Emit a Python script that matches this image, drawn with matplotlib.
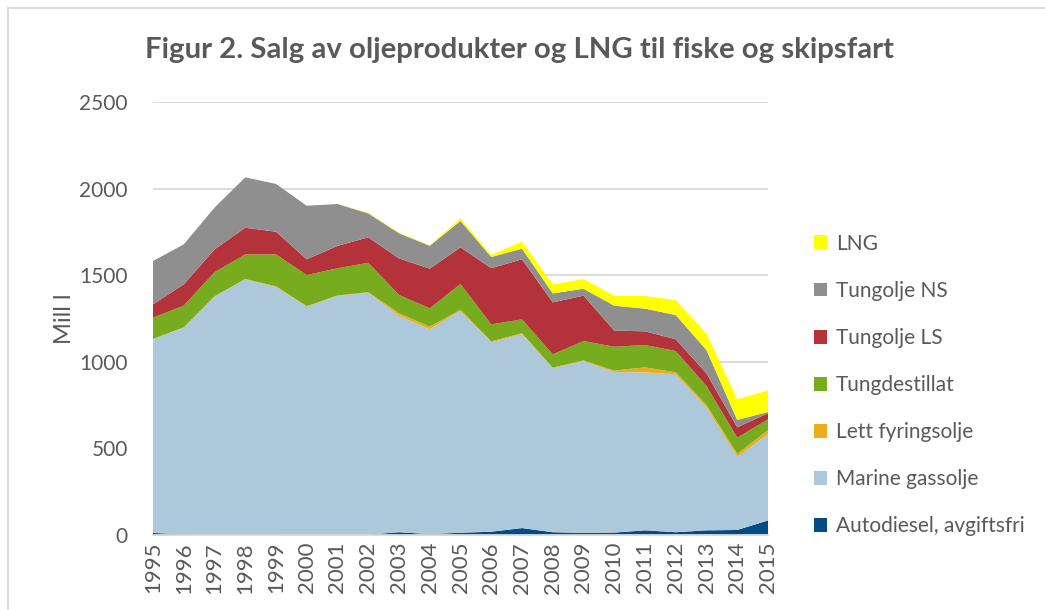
import matplotlib
matplotlib.use("Agg")
import matplotlib.pyplot as plt
from matplotlib.patches import Rectangle, Patch
import numpy as np

years = list(range(1995, 2016))
autodiesel = [12, 3, 2, 2, 2, 1, 1, 2, 16, 5, 13, 19, 40, 16, 12, 14, 27, 16, 27, 29, 84]
marine_gassolje = [1118, 1194, 1374, 1474, 1430, 1317, 1379, 1397, 1250, 1183, 1282, 1093, 1120, 946, 993, 927, 912, 912, 710, 423, 499]
lett_fyringsolje = [2, 2, 2, 2, 4, 3, 3, 3, 14, 15, 5, 6, 5, 4, 3, 8, 29, 11, 14, 16, 23]
tungdestillat = [123, 125, 139, 142, 184, 180, 157, 170, 106, 106, 149, 98, 80, 77, 112, 138, 129, 123, 109, 94, 62]
tungolje_ls = [77, 123, 132, 154, 131, 91, 129, 147, 211, 229, 212, 324, 347, 300, 262, 93, 79, 68, 73, 60, 35]
tungolje_ns = [250, 231, 241, 291, 276, 309, 242, 138, 145, 132, 152, 65, 61, 52, 40, 144, 131, 140, 135, 42, 7]
lng = [0, 0, 0, 0, 0, 0, 0, 3, 4, 3, 15, 12, 41, 52, 56, 58, 73, 87, 96, 119, 125]

series_names = ["Autodiesel, avgiftsfri", "Marine gassolje", "Lett fyringsolje",
                "Tungdestillat", "Tungolje LS", "Tungolje NS", "LNG"]
series = [autodiesel, marine_gassolje, lett_fyringsolje, tungdestillat,
          tungolje_ls, tungolje_ns, lng]
colors = ["#044A85", "#ADC8DB", "#EDAC1A", "#77AC1F", "#B4333A", "#8F8F8F", "#FFFF00"]

TXT = "#595959"
plt.rcParams['font.family'] = ['Lato', 'DejaVu Sans']

fig = plt.figure(figsize=(10.45, 6.10), dpi=100)
ax = fig.add_axes([153/1045, 1 - 535/610, 615/1045, 433/610])

ax.stackplot(years, *series, colors=colors, linewidth=0)

ax.set_xlim(1995, 2015)
ax.set_ylim(0, 2500)
ax.set_yticks([0, 500, 1000, 1500, 2000, 2500])
ax.set_xticks(years)
ax.set_xticklabels([str(y) for y in years], rotation=90)
ax.yaxis.grid(True, color="#D9D9D9", linewidth=1.3)
ax.set_axisbelow(True)
for s in ["top", "right", "left"]:
    ax.spines[s].set_visible(False)
ax.spines["bottom"].set_color("#D9D9D9")
ax.spines["bottom"].set_linewidth(1.3)
ax.spines["bottom"].set_zorder(5)
ax.tick_params(axis="both", length=0, labelcolor=TXT)
ax.tick_params(axis="y", pad=18, labelsize=15)
ax.tick_params(axis="x", pad=5, labelsize=16)
ax.set_ylabel("Mill l", fontsize=17, color=TXT, labelpad=3)

fig.text(519/1045, 1 - 50/610, "Figur 2. Salg av oljeprodukter og LNG til fiske og skipsfart",
         fontsize=21.2, fontweight="bold", color=TXT, ha="center", va="center")

handles = [Patch(facecolor=c, edgecolor="none") for c in colors][::-1]
labels = series_names[::-1]
leg = fig.legend(handles, labels, loc="upper left", bbox_to_anchor=(795/1045, 1 - 215/610),
                 frameon=False, fontsize=15, handlelength=0.65, handleheight=0.65,
                 handletextpad=0.4, labelspacing=1.3, labelcolor=TXT)

fig.add_artist(Rectangle((8/1045, -0.5), 2.0, 0.5 + 1 - 8/610, transform=fig.transFigure,
                         fill=False, edgecolor="#D9D9D9", linewidth=1.3))

fig.savefig("out.png", dpi=100)
